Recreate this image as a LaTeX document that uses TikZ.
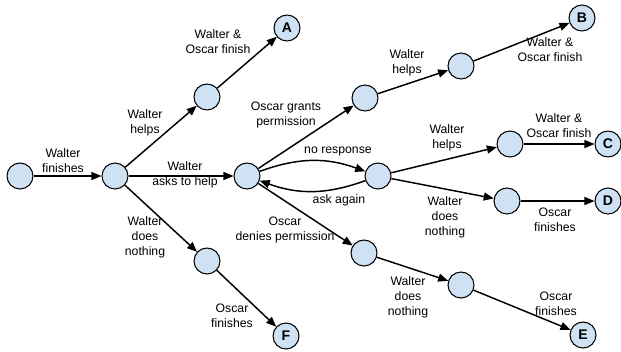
\documentclass[tikz,border=0pt]{standalone}
\usepackage{fontspec}
\setmainfont{Liberation Sans}
\usetikzlibrary{arrows.meta}
\definecolor{stateblue}{HTML}{CFE2F3}

\tikzset{
every picture/.style={
line width=1.1pt
}}

\begin{document}
\begin{tikzpicture}[x=0.75pt, y=0.75pt,
state/.style = {circle, draw=black, line width=0.8pt, fill=stateblue, minimum size=19.5pt, inner sep=0pt},
goal/.style = {state, font=\fontsize{10.5}{12}\selectfont\bfseries},
arr/.style = {-{Triangle[length=7.5pt, width=6pt]}},
lbl/.style = {align=center, font=\fontsize{9.2}{11.25}\selectfont, inner sep=0pt}]

\useasboundingbox (0,0) rectangle (621,-351);

\node [state] (start) at (20,-176) {};
\node [state] (done) at (115,-176) {};
\node [state] (help1) at (207,-97) {};
\node [goal] (A) at (287,-28) {A};
\node [state] (ask) at (247,-176) {};
\node [state] (grant) at (365,-98) {};
\node [state] (help2) at (461,-66) {};
\node [goal] (B) at (582,-18) {B};
\node [state] (wait) at (378,-176) {};
\node [state] (help3) at (510,-144) {};
\node [goal] (C) at (608,-144) {C};
\node [state] (idle3) at (507,-201) {};
\node [goal] (D) at (608,-201) {D};
\node [state] (deny) at (364,-253) {};
\node [state] (idle2) at (461,-285) {};
\node [goal] (E) at (583,-335) {E};
\node [state] (idle1) at (207,-261) {};
\node [goal] (F) at (286,-336) {F};

\draw [arr] (start) -- node [lbl, shift={(-4.5,15)}] {Walter\\finishes} (done);
\draw [arr] (done) -- node [lbl, shift={(-16,14)}] {Walter\\helps} (help1);
\draw [arr] (help1) -- node [lbl, shift={(-29,20.5)}] {Walter \&\\Oscar finish} (A);
\draw [arr] (done) -- node [lbl, shift={(4,1)}] {Walter\\asks to help} (ask);
\draw [arr] (done) -- node [lbl, shift={(-16,-18.5)}] {Walter\\does\\nothing} (idle1);
\draw [arr] (idle1) -- node [lbl, shift={(-14.5,-17.5)}] {Oscar\\finishes} (F);

\draw [arr] (ask) -- node [lbl, shift={(-20,22)}] {Oscar grants\\permission} (grant);
\draw [arr] (grant) -- node [lbl, shift={(-6,19)}] {Walter\\helps} (help2);
\draw [arr] (help2) -- node [lbl, shift={(28.5,-7.5)}] {Walter \&\\Oscar finish} (B);

\draw [arr] (ask) to [out=20, in=160] node [lbl, shift={(25.5,9)}] {no response} (wait);
\draw [arr] (wait) to [out=200, in=-20] node [lbl, shift={(26.5,-9)}] {ask again} (ask);
\draw [arr] (wait) -- node [lbl, shift={(3,22)}] {Walter\\helps} (help3);
\draw [arr] (help3) -- node [lbl, shift={(0,18)}] {Walter \&\\Oscar finish} (C);
\draw [arr] (wait) -- node [lbl, shift={(2.5,-28.5)}] {Walter\\does\\nothing} (idle3);
\draw [arr] (idle3) -- node [lbl, shift={(-2.5,-19)}] {Oscar\\finishes} (D);

\draw [arr] (ask) -- node [lbl, shift={(-20.5,-15.5)}] {Oscar\\denies permission} (deny);
\draw [arr] (deny) -- node [lbl, shift={(-4.5,-28)}] {Walter\\does\\nothing} (idle2);
\draw [arr] (idle2) -- node [lbl, shift={(34,6)}] {Oscar\\finishes} (E);

\end{tikzpicture}
\end{document}
